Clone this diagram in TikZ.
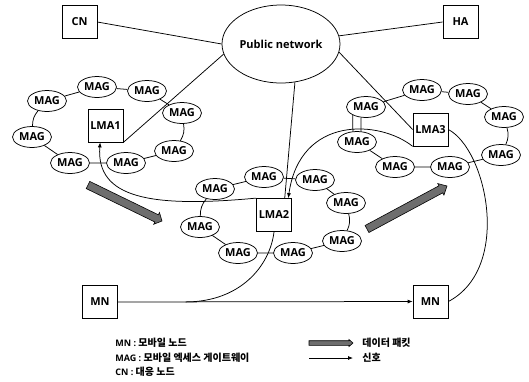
\documentclass[tikz,border=0pt]{standalone}
\usepackage{fontspec}
\setmainfont{Open Sans}
\newfontfamily\kr{Noto Sans CJK KR}
\usetikzlibrary{arrows.meta,shapes.geometric,calc}

% thick grey block arrow: from #1 to #2, shaft half-width #3, head half-width #4, head length #5
\newcommand\datapacket[5]{%
  \coordinate (pkthead) at ($(#2)!#5!(#1)$);
  \filldraw[packet]
    ($(#1)!#3!90:(#2)$) -- ($(pkthead)!#3!90:(#2)$) -- ($(pkthead)!#4!90:(#2)$)
    -- (#2)
    -- ($(pkthead)!#4!-90:(#2)$) -- ($(pkthead)!#3!-90:(#2)$) -- ($(#1)!#3!-90:(#2)$) -- cycle;
}

\begin{document}
\begin{tikzpicture}[x=1pt,y=-1pt,line width=0.75pt,
  font=\fontsize{11}{13}\selectfont\bfseries,
  mag/.style={ellipse,draw,minimum width=39pt,minimum height=21pt,inner sep=0pt},
  box/.style={rectangle,draw,minimum width=35pt,minimum height=33pt,inner sep=0pt},
  net/.style={ellipse,draw,minimum width=118pt,minimum height=78pt,inner sep=0pt},
  sig/.style={-{Latex[length=5pt,width=4pt]}},
  packet/.style={fill=black!57,draw=black,line width=0.6pt,line join=miter},
  legend/.style={anchor=west,inner sep=0pt,font=\fontsize{9}{10}\selectfont\bfseries},
  hangul/.style={font=\fontsize{10}{11}\selectfont\bfseries\kr}]

\useasboundingbox (0,0) rectangle (529,381);

% core network and end hosts
\node[net] (pub) at (281,44) {Public network};
\node[box] (cn)  at (79.5,22)  {CN};
\node[box] (ha)  at (460.5,22) {HA};

% local mobility anchors
\node[box] (lma1) at (105.5,125.5) {LMA1};
\node[box] (lma2) at (274,215)     {LMA2};
\node[box] (lma3) at (430.5,129.5) {LMA3};

% mobile node, before and after the move
\node[box] (mn1) at (100,302)   {MN};
\node[box] (mn2) at (430.5,301.5) {MN};

% MAG ring of LMA1
\node[mag] (l1) at (47,101)  {MAG};
\node[mag] (l2) at (97,87)   {MAG};
\node[mag] (l3) at (147,91)  {MAG};
\node[mag] (l4) at (182,113) {MAG};
\node[mag] (l5) at (174,151) {MAG};
\node[mag] (l6) at (126,163) {MAG};
\node[mag] (l7) at (70,163)  {MAG};
\node[mag] (l8) at (32,137)  {MAG};

% MAG ring of LMA2
\node[mag] (c1) at (215,189) {MAG};
\node[mag] (c2) at (264,177) {MAG};
\node[mag] (c3) at (315,180) {MAG};
\node[mag] (c4) at (346,203) {MAG};
\node[mag] (c5) at (342,241) {MAG};
\node[mag] (c6) at (293,253) {MAG};
\node[mag] (c7) at (238,253) {MAG};
\node[mag] (c8) at (200,227) {MAG};

% MAG ring of LMA3
\node[mag] (r1) at (366,107) {MAG};
\node[mag] (r2) at (422,90)  {MAG};
\node[mag] (r3) at (468,94)  {MAG};
\node[mag] (r4) at (504,117) {MAG};
\node[mag] (r5) at (501,155) {MAG};
\node[mag] (r6) at (450,167) {MAG};
\node[mag] (r7) at (395,167) {MAG};
\node[mag] (r8) at (357,142) {MAG};

% ring links
\draw (l1) -- (l2) -- (l3) -- (l4);
\draw (l4) to[bend left=20] (l5);
\draw (l5) -- (l6) -- (l7) -- (l8);
\draw (l8) to[bend left=20] (l1);

\draw (c1) -- (c2) -- (c3) -- (c4);
\draw (c4) to[bend left=20] (c5);
\draw (c5) -- (c6) -- (c7) -- (c8);
\draw (c8) to[bend left=20] (c1);

\draw (r1) -- (r2) -- (r3) -- (r4);
\draw (r4) to[bend left=20] (r5);
\draw (r5) -- (r6) -- (r7) -- (r8);
\draw (r8.111) -- (r1.211);
\draw (r8.69)  -- (r1.244);

% backbone links
\draw (cn.east) -- (pub.west);
\draw (pub.8) -- (ha.west);
\draw (pub.190) -- (lma1.south east);
\draw (pub.290) -- ($(lma2.north)!0.6!(lma2.north east)$);
\draw (pub.352) -- (lma3.west);

% signalling
\draw[sig] (lma2.north west) .. controls (150,208) and (96,198) .. ($(lma1.south west)!0.35!(lma1.south east)$);
\draw[sig] (lma3.south west) .. controls (380,120) and (300,115) .. ($(lma2.north)!0.8!(lma2.north east)$);
\draw (lma3.east) .. controls (487,150) and (512,268) .. (mn2.east);
\coordinate (merge) at ($(mn1.east)!0.23!(mn2.west)$);
\draw (lma2.south) .. controls (270,266) and (240,302) .. (merge);
\draw[sig] (mn1.east) -- (mn2.west);

% data packets
\coordinate (p1a) at (88,185);
\coordinate (p1b) at (162,221);
\coordinate (p2a) at (367,229);
\coordinate (p2b) at (447,186);
\datapacket{p1a}{p1b}{4pt}{6.5pt}{6pt}
\datapacket{p2a}{p2b}{4pt}{6.5pt}{7pt}

% legend
\node[legend] (t1) at (115,343) {MN : {\fontsize{10}{11}\selectfont\kr 모바일 노드}};
\node[legend] (t2) at (115,358) {MAG : {\fontsize{10}{11}\selectfont\kr 모바일 엑세스 게이트웨이}};
\node[legend] (t3) at (115,372) {CN : {\fontsize{10}{11}\selectfont\kr 대응 노드}};
\coordinate (k1a) at (309,343);
\coordinate (k1b) at (353,343);
\datapacket{k1a}{k1b}{2.3pt}{3.5pt}{4pt}
\node[legend,hangul] (t4) at (362,343) {데이터 패킷};
\coordinate (k2a) at (309,358);
\coordinate (k2b) at (353,358);
\draw[sig] (k2a) -- (k2b);
\node[legend,hangul] (t5) at (362,358) {신호};
\end{tikzpicture}
\end{document}
